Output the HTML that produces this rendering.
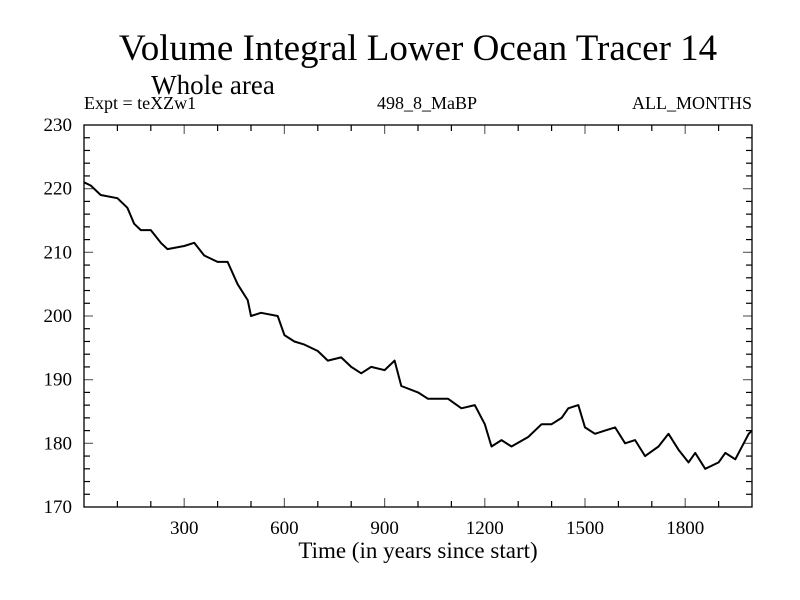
<!DOCTYPE html>
<html><head><meta charset="utf-8"><style>
html,body{margin:0;padding:0;background:#fff;}
svg{display:block;font-family:"Liberation Serif",serif;}
</style></head><body>
<svg id="chart" width="800" height="600">
<text x="418" y="60" font-size="37" text-anchor="middle">Volume Integral Lower Ocean Tracer 14</text>
<text x="213" y="94" font-size="27" text-anchor="middle">Whole area</text>
<text x="84" y="109" font-size="18">Expt = teXZw1</text>
<text x="427" y="109" font-size="18" text-anchor="middle">498_8_MaBP</text>
<text x="752" y="109" font-size="18" text-anchor="end">ALL_MONTHS</text>
<text x="418" y="558" font-size="23" text-anchor="middle">Time (in years since start)</text>
<g id="axes"></g>
<path id="line" fill="none" stroke="#000" stroke-width="2" stroke-linejoin="round"/>
<rect x="84" y="125" width="668" height="382" fill="none" stroke="#000" stroke-width="1.3"/>
</svg>
<script>
const years=[0,20,50,100,130,150,170,200,230,250,300,330,360,400,430,460,490,500,530,580,600,630,660,700,730,770,800,830,860,900,930,950,1000,1030,1060,1090,1130,1170,1200,1220,1250,1280,1330,1370,1400,1430,1450,1480,1500,1530,1560,1590,1620,1650,1680,1720,1750,1780,1810,1830,1860,1880,1900,1920,1950,1990,2000];
const values=[221,220.5,219,218.5,217,214.5,213.5,213.5,211.5,210.5,211,211.5,209.5,208.5,208.5,205,202.5,200,200.5,200,197,196,195.5,194.5,193,193.5,192,191,192,191.5,193,189,188,187,187,187,185.5,186,183,179.5,180.5,179.5,181,183,183,184,185.5,186,182.5,181.5,182,182.5,180,180.5,178,179.5,181.5,179,177,178.5,176,176.5,177,178.5,177.5,181.5,182];
const xTicks=[300,600,900,1200,1500,1800];
const yTicks=[170,180,190,200,210,220,230];
const X=v=>84+(v/2000)*668;
const Y=v=>507-(v-170)/60*382;
const ns="http://www.w3.org/2000/svg";
const ax=document.getElementById('axes');
function ln(x1,y1,x2,y2,c){const l=document.createElementNS(ns,'line');l.setAttribute('x1',x1);l.setAttribute('y1',y1);l.setAttribute('x2',x2);l.setAttribute('y2',y2);l.setAttribute('stroke',c);l.setAttribute('stroke-width',1.2);


ax.appendChild(l);}
for(let v=100;v<2000;v+=100){const maj=v%300===0;const len=maj?9:6;ln(X(v),507,X(v),507-len,maj?'#666':'#000');ln(X(v),125,X(v),125+len,maj?'#666':'#000');}
for(let v=172;v<230;v+=2){const maj=v%10===0;const len=maj?9:6;ln(84,Y(v),84+len,Y(v),maj?'#666':'#000');ln(752,Y(v),752-len,Y(v),maj?'#666':'#000');}
xTicks.forEach(v=>{const t=document.createElementNS(ns,'text');t.setAttribute('x',X(v));t.setAttribute('y',534);t.setAttribute('font-size',19);t.setAttribute('text-anchor','middle');t.textContent=v;


ax.appendChild(t);});
yTicks.forEach(v=>{const t=document.createElementNS(ns,'text');t.setAttribute('x',72);t.setAttribute('y',Y(v)+6);t.setAttribute('font-size',19);t.setAttribute('text-anchor','end');t.textContent=v;


ax.appendChild(t);});
document.getElementById('line').setAttribute('d',years.map((y,i)=>(i?'L':'M')+X(y).toFixed(1)+','+Y(values[i]).toFixed(1)).join(''));
</script>
</body></html>
